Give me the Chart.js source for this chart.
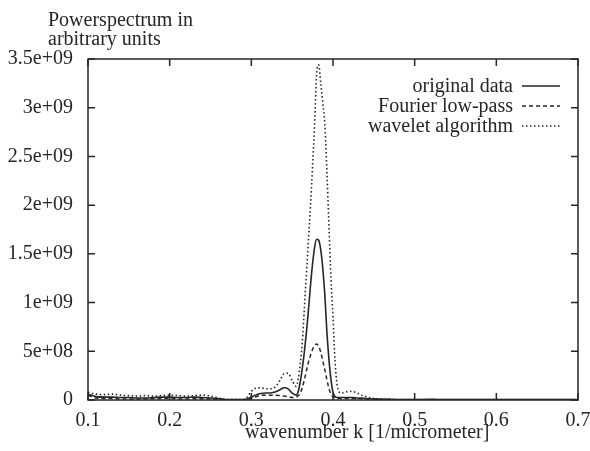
<!DOCTYPE html>
<html>
<head>
<meta charset="utf-8">
<title>Powerspectrum</title>
<script src="https://cdn.jsdelivr.net/npm/chart.js@4/dist/chart.umd.min.js"></script>
<style>
  html, body { margin: 0; padding: 0; background: #fff; }
</style>
</head>
<body>
<canvas id="chart" width="590" height="451"></canvas>
<script>
// wavenumber k [1/micrometer]
const k = [
  0.10, 0.11, 0.12, 0.13, 0.14, 0.15, 0.16, 0.17, 0.18, 0.19,
  0.20, 0.21, 0.22, 0.23, 0.24, 0.25, 0.26, 0.27, 0.28, 0.29,
  0.295, 0.30, 0.305, 0.31, 0.315, 0.32, 0.325, 0.33, 0.335, 0.34, 0.345, 0.35, 0.355,
  0.3575, 0.36, 0.3625, 0.365, 0.3675, 0.37, 0.3725, 0.375, 0.3775, 0.38,
  0.3825, 0.385, 0.3875, 0.39, 0.3925, 0.395, 0.3975, 0.40, 0.4025, 0.405,
  0.41, 0.415, 0.42, 0.425, 0.43, 0.435, 0.44, 0.45, 0.46, 0.47,
  0.48, 0.49, 0.50, 0.52, 0.54, 0.56, 0.58, 0.60, 0.62, 0.64, 0.66, 0.68, 0.70
];

// power values, in units of 1e8
const originalData = [
  0.6, 0.35, 0.3, 0.3, 0.25, 0.25, 0.2, 0.2, 0.25, 0.3,
  0.3, 0.25, 0.25, 0.3, 0.25, 0.2, 0.15, 0.05, 0.05, 0.05,
  0.1, 0.3, 0.5, 0.65, 0.7, 0.72, 0.75, 0.85, 1.05, 1.25, 1.15, 0.7, 0.5,
  0.9, 1.9, 3.3, 5.0, 7.0, 9.3, 11.8, 14.0, 15.7, 16.5,
  16.4, 15.4, 13.5, 10.8, 7.0, 4.2, 2.1, 0.8, 0.35, 0.25,
  0.25, 0.25, 0.25, 0.25, 0.2, 0.2, 0.15, 0.1, 0.08, 0.06,
  0.05, 0.05, 0.05, 0.06, 0.05, 0.05, 0.04, 0.05, 0.05, 0.04, 0.04, 0.05, 0.05
];
const fourierLowPass = [
  0.5, 0.2, 0.15, 0.15, 0.1, 0.1, 0.1, 0.12, 0.12, 0.15,
  0.15, 0.12, 0.1, 0.12, 0.12, 0.1, 0.08, 0.03, 0.03, 0.03,
  0.05, 0.15, 0.3, 0.45, 0.5, 0.5, 0.5, 0.5, 0.45, 0.4, 0.35, 0.25, 0.3,
  0.45, 0.7, 1.3, 2.1, 3.0, 3.9, 4.6, 5.2, 5.6, 5.75,
  5.5, 4.9, 4.0, 3.1, 2.1, 1.2, 0.6, 0.3, 0.2, 0.15,
  0.15, 0.15, 0.15, 0.15, 0.12, 0.12, 0.1, 0.08, 0.05, 0.04,
  0.03, 0.03, 0.03, 0.03, 0.03, 0.03, 0.03, 0.03, 0.03, 0.03, 0.03, 0.03, 0.03
];
const waveletAlgorithm = [
  0.8, 0.6, 0.55, 0.6, 0.5, 0.45, 0.4, 0.45, 0.4, 0.45,
  0.5, 0.45, 0.4, 0.45, 0.5, 0.4, 0.2, 0.05, 0.05, 0.05,
  0.3, 0.9, 1.2, 1.25, 1.2, 1.15, 1.15, 1.4, 2.0, 2.7, 2.75, 2.0, 1.4,
  2.2, 3.8, 6.0, 9.5, 13.0, 16.5, 20.0, 24.0, 28.3, 33.5,
  34.4, 32.5, 30.5, 28.3, 23.5, 18.0, 12.5, 8.5, 4.0, 1.6,
  0.7, 0.8, 0.9, 0.85, 0.7, 0.5, 0.35, 0.15, 0.1, 0.06,
  0.05, 0.05, 0.05, 0.05, 0.05, 0.05, 0.05, 0.05, 0.05, 0.05, 0.05, 0.05, 0.05
];

const xTickLabels = ["0.1", "0.2", "0.3", "0.4", "0.5", "0.6", "0.7"];
const yTickLabels = ["0", "5e+08", "1e+09", "1.5e+09", "2e+09", "2.5e+09", "3e+09", "3.5e+09"];

const INK = "#262626";
const FONT = '20px "Liberation Serif", "Times New Roman", serif';

const toPoints = (values) => values.map((v, i) => ({ x: k[i], y: v }));

// gnuplot-like frame, inward ticks, axis titles and legend
const framePlugin = {
  id: "frame",
  afterDatasetsDraw(chart) {
    const { ctx, chartArea: a, scales } = chart;
    ctx.save();
    ctx.strokeStyle = INK;
    ctx.lineWidth = 1.5;
    ctx.setLineDash([]);
    ctx.strokeRect(a.left, a.top, a.right - a.left, a.bottom - a.top);

    ctx.beginPath();
    scales.x.ticks.forEach((t, i) => {
      const px = scales.x.getPixelForTick(i);
      ctx.moveTo(px, a.bottom);
      ctx.lineTo(px, a.bottom - 7);
      ctx.moveTo(px, a.top);
      ctx.lineTo(px, a.top + 7);
    });
    scales.y.ticks.forEach((t, i) => {
      const py = scales.y.getPixelForTick(i);
      ctx.moveTo(a.left, py);
      ctx.lineTo(a.left + 7, py);
      ctx.moveTo(a.right, py);
      ctx.lineTo(a.right - 7, py);
    });
    ctx.stroke();

    ctx.fillStyle = INK;
    ctx.font = FONT;
    ctx.textBaseline = "alphabetic";
    ctx.textAlign = "left";
    ctx.fillText("Powerspectrum in", 48, 26);
    ctx.fillText("arbitrary units", 48, 45);
    ctx.fillText("wavenumber k [1/micrometer]", 245, 438);

    chart.data.datasets.forEach((ds, i) => {
      const y = 92 + i * 20;
      ctx.textAlign = "right";
      ctx.fillText(ds.label, 513, y);
      ctx.beginPath();
      ctx.lineWidth = ds.borderWidth;
      ctx.setLineDash(ds.borderDash || []);
      ctx.moveTo(522, y - 6);
      ctx.lineTo(560, y - 6);
      ctx.stroke();
    });
    ctx.restore();
  },
};

document.addEventListener("DOMContentLoaded", function () {
  const ctx = document.getElementById("chart").getContext("2d");
  const tickFont = { family: '"Liberation Serif", "Times New Roman", serif', size: 20 };

  new Chart(ctx, {
    type: "line",
    data: {
      datasets: [
        {
          label: "original data",
          data: toPoints(originalData),
          borderColor: INK,
          borderWidth: 1.6,
          borderDash: [],
        },
        {
          label: "Fourier low-pass",
          data: toPoints(fourierLowPass),
          borderColor: INK,
          borderWidth: 1.5,
          borderDash: [4, 3],
        },
        {
          label: "wavelet algorithm",
          data: toPoints(waveletAlgorithm),
          borderColor: INK,
          borderWidth: 1.6,
          borderDash: [1.5, 2.5],
        },
      ],
    },
    options: {
      responsive: false,
      animation: false,
      devicePixelRatio: 1,
      layout: { padding: { top: 59, right: 12, left: 0, bottom: 0 } },
      elements: {
        point: { radius: 0 },
        line: { cubicInterpolationMode: "monotone", fill: false },
      },
      plugins: {
        legend: { display: false },
        tooltip: { enabled: false },
      },
      scales: {
        x: {
          type: "linear",
          min: 0.1,
          max: 0.7,
          grid: { display: false, drawTicks: false },
          border: { display: false },
          ticks: {
            stepSize: 0.1,
            padding: 9,
            color: INK,
            font: tickFont,
            maxRotation: 0,
            callback: (v, i) => xTickLabels[i],
          },
          afterFit: (scale) => {
            scale.height = 51;
            // let the last label hang into the right margin
            scale.paddingLeft = 0;
            scale.paddingRight = 0;
          },
        },
        y: {
          min: 0,
          max: 35,
          grid: { display: false, drawTicks: false },
          border: { display: false },
          ticks: {
            stepSize: 5,
            padding: 15,
            color: INK,
            font: tickFont,
            callback: (v, i) => yTickLabels[i],
          },
          afterFit: (scale) => {
            scale.width = 88;
            scale.paddingTop = 0;
            scale.paddingBottom = 0;
          },
        },
      },
    },
    plugins: [framePlugin],
  });
});
</script>
</body>
</html>
